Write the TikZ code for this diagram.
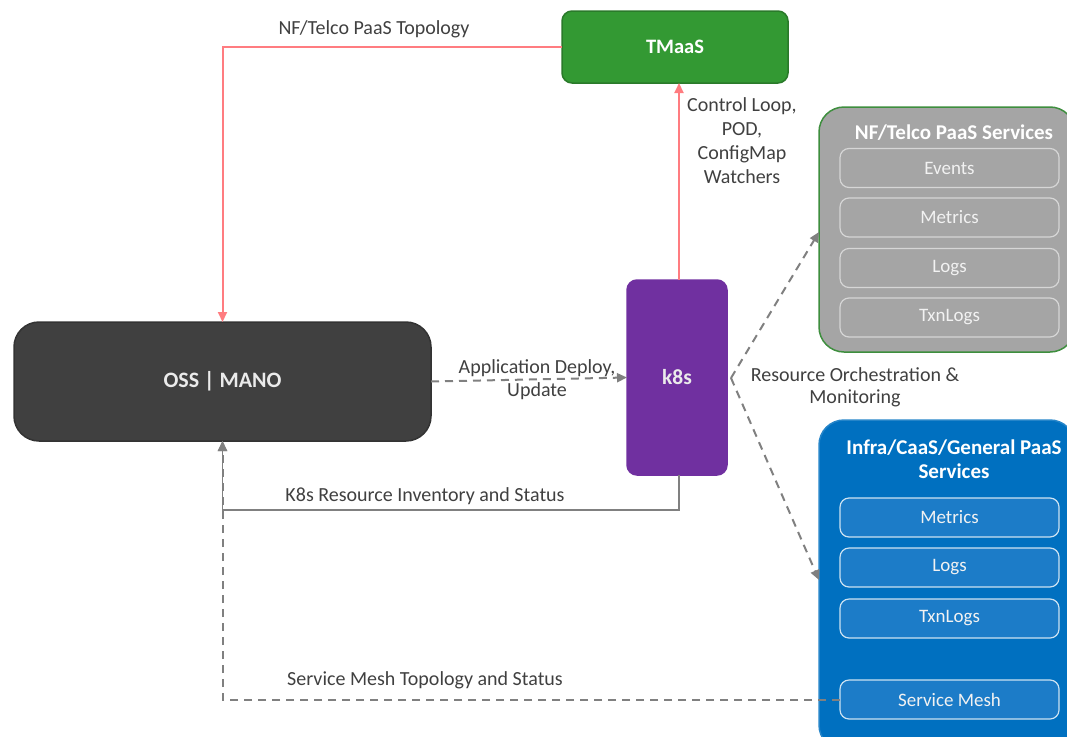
\documentclass[tikz,border=0pt]{standalone}
\usepackage{fontspec}
\setmainfont{Carlito}
\usetikzlibrary{arrows.meta,positioning,calc}
\definecolor{tmgreen}{HTML}{339933}
\definecolor{tmgreenb}{HTML}{2A7A2A}
\definecolor{nfgray}{HTML}{A5A5A5}
\definecolor{nfborder}{HTML}{3E8E3E}
\definecolor{subgray}{HTML}{D6D6D6}
\definecolor{infrablue}{HTML}{0070C0}
\definecolor{subblue}{HTML}{1C7CC8}
\definecolor{ossgray}{HTML}{404040}
\definecolor{k8spurple}{HTML}{7030A0}
\definecolor{redline}{HTML}{FF7C80}
\definecolor{grayline}{HTML}{808080}
\definecolor{txt}{HTML}{404040}
\tikzset{
  every node/.style={font=\fontsize{19}{23}\selectfont, inner sep=0pt, outer sep=0pt},
  bigbox/.style={draw, line width=1.5pt, rounded corners=#1, align=center},
  subbox/.style={draw, line width=1.2pt, rounded corners=9pt, minimum width=219pt, minimum height=39pt, text=white!95!black},
  lbl/.style={text=txt, align=center, font=\fontsize{20}{24}\selectfont},
  redarrow/.style={draw=redline, line width=2pt, -{Triangle[length=10pt,width=9pt]}},
  grayarrow/.style={draw=grayline, line width=2pt, -{Triangle[length=10pt,width=9pt]}},
  dasharrow/.style={grayarrow, dash pattern=on 8pt off 6pt},
}
\begin{document}
\begin{tikzpicture}[x=1pt,y=-1pt]
\useasboundingbox (0,0) rectangle (1067,736);
% boxes
\node[bigbox=10pt, fill=tmgreen, draw=tmgreenb, minimum width=226pt, minimum height=72pt, text=white, font=\fontsize{20.5}{24}\selectfont\bfseries] (tm) at (675,47) {TMaaS};
\node[bigbox=25pt, fill=ossgray, draw=black!80, minimum width=417pt, minimum height=119pt, text=white!92!black, font=\fontsize{22}{26}\selectfont\bfseries] (oss) at (222.5,381.5) {OSS | MANO};
\node[bigbox=10pt, fill=k8spurple, draw=k8spurple, minimum width=100pt, minimum height=195pt, text=white!92!black, font=\fontsize{21.5}{25}\selectfont\bfseries] (k8s) at (677,377.5) {k8s};
\node[bigbox=25pt, fill=nfgray, draw=nfborder, minimum width=256pt, minimum height=245pt] (nf) at (947,229.5) {};
\node[bigbox=25pt, fill=infrablue, draw=infrablue!85!white, minimum width=256pt, minimum height=330pt] (infra) at (947,585) {};
% titles
\node[text=white, font=\fontsize{21}{24}\selectfont\bfseries] (nft) at (954,133) {NF/Telco PaaS Services};
\node[text=white, align=center, font=\fontsize{21}{24.5}\selectfont\bfseries] (inft) at (954,459) {Infra/CaaS/General PaaS\\Services};
% sub boxes NF
\node[subbox, fill=nfgray, draw=subgray] (nfev) at (949.5,168) {Events};
\node[subbox, fill=nfgray, draw=subgray] (nfme) at (949.5,217.5) {Metrics};
\node[subbox, fill=nfgray, draw=subgray] (nflo) at (949.5,268) {Logs};
\node[subbox, fill=nfgray, draw=subgray] (nftx) at (949.5,317.5) {TxnLogs};
% sub boxes infra
\node[subbox, fill=subblue, draw=white!80!infrablue] (inme) at (949.5,517.5) {Metrics};
\node[subbox, fill=subblue, draw=white!80!infrablue] (inlo) at (949.5,567.5) {Logs};
\node[subbox, fill=subblue, draw=white!80!infrablue] (intx) at (949.5,618.5) {TxnLogs};
\node[subbox, fill=subblue, draw=white!80!infrablue] (sm) at (949.5,699.5) {Service Mesh};
% connectors
\draw[redarrow] (tm.west) -| (oss.north);
\draw[redarrow] ($(k8s.north)+(2,0)$) -- ($(tm.south)+(4,0)$);
\draw[dasharrow] (oss.east) -- (k8s.west);
\coordinate (fork) at (731,378);
\coordinate (nfin) at (819,232);
\coordinate (infin) at (819,580);
\draw[dasharrow] (fork) -- (nfin);
\draw[dasharrow] (fork) -- (infin);
\coordinate (invturn) at (222.5,510);
\draw[grayarrow, line width=1.8pt] ($(k8s.south)+(2,0)$) |- (invturn) -- (oss.south);
\draw[dasharrow] (sm.west) -| (oss.south);
% labels
\node[lbl] (l1) at (374,29) {NF/Telco PaaS Topology};
\node[lbl] (l2) at (742,141) {Control Loop,\\POD,\\ConfigMap\\Watchers};
\node[lbl, font=\fontsize{20}{23}\selectfont] (l3) at (537,380) {Application Deploy,\\Update};
\node[lbl] (l4) at (425,496) {K8s Resource Inventory and Status};
\node[lbl, font=\fontsize{20}{22}\selectfont] (l5) at (855,387) {Resource Orchestration \&\\Monitoring};
\node[lbl] (l6) at (425,680) {Service Mesh Topology and Status};
\end{tikzpicture}
\end{document}
